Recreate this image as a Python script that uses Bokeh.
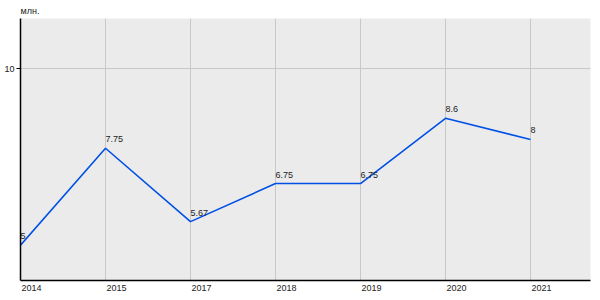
from bokeh.plotting import figure
from bokeh.models import FixedTicker, Range1d, ColumnDataSource
from bokeh.core.properties import value
from bokeh.embed import file_html
from bokeh.resources import INLINE

years = ["2014", "2015", "2017", "2018", "2019", "2020", "2021"]
values = [5, 7.75, 5.67, 6.75, 6.75, 8.6, 8]
labels = ["5", "7.75", "5.67", "6.75", "6.75", "8.6", "8"]
y_ticks = [10]
unit = "млн."

xs = list(range(len(years)))
src = ColumnDataSource(dict(x=xs, y=values, t=labels))

FONT = "Liberation Sans"
p = figure(width=600, height=300, output_backend="svg", toolbar_location=None,
           x_range=Range1d(0, 6.706), y_range=Range1d(4.0, 11.43),
           min_border_left=20, min_border_right=10, min_border_bottom=20, min_border_top=0)
p.extra_x_ranges = {"shift": Range1d(-0.13, 6.576)}
p.title.text = unit
p.title.align = "left"
p.title.text_font = FONT
p.title.text_font_size = "9px"
p.title.text_font_style = "normal"
p.title.text_color = "#222222"
p.title.offset = 0
p.title.standoff = 6

p.background_fill_color = "#ebebeb"
p.border_fill_color = "white"
p.outline_line_color = None

p.line("x", "y", source=src, line_color="#0050e6", line_width=1.6)
p.text("x", "y", text="t", source=src, text_font=value(FONT),
       text_font_size="9px", text_color="#222222", text_align="left",
       text_baseline="bottom", y_offset=-6, x_offset=0)

p.xaxis.x_range_name = "shift"
p.xaxis.ticker = FixedTicker(ticks=xs)
p.xaxis.major_label_overrides = {i: y for i, y in enumerate(years)}
p.xaxis.major_tick_out = 0
p.xaxis.major_tick_in = 0
p.xaxis.minor_tick_line_color = None
p.xaxis.major_label_standoff = 4
p.yaxis.ticker = FixedTicker(ticks=y_ticks)
p.yaxis.major_tick_out = 4
p.yaxis.major_tick_in = 0
p.yaxis.minor_tick_line_color = None
p.yaxis.major_label_standoff = 2
for ax in (p.xaxis, p.yaxis):
    ax.axis_line_color = "black"
    ax.axis_line_width = 1.5
    ax.major_tick_line_color = "black"
    ax.major_label_text_font = FONT
    ax.major_label_text_font_size = "9px"
    ax.major_label_text_color = "#222222"

p.xgrid.grid_line_color = "#c8c8c8"
p.ygrid.grid_line_color = "#c8c8c8"
p.xgrid.ticker = FixedTicker(ticks=xs)
p.ygrid.ticker = FixedTicker(ticks=y_ticks)

open("out.html", "w").write(file_html(p, INLINE))
